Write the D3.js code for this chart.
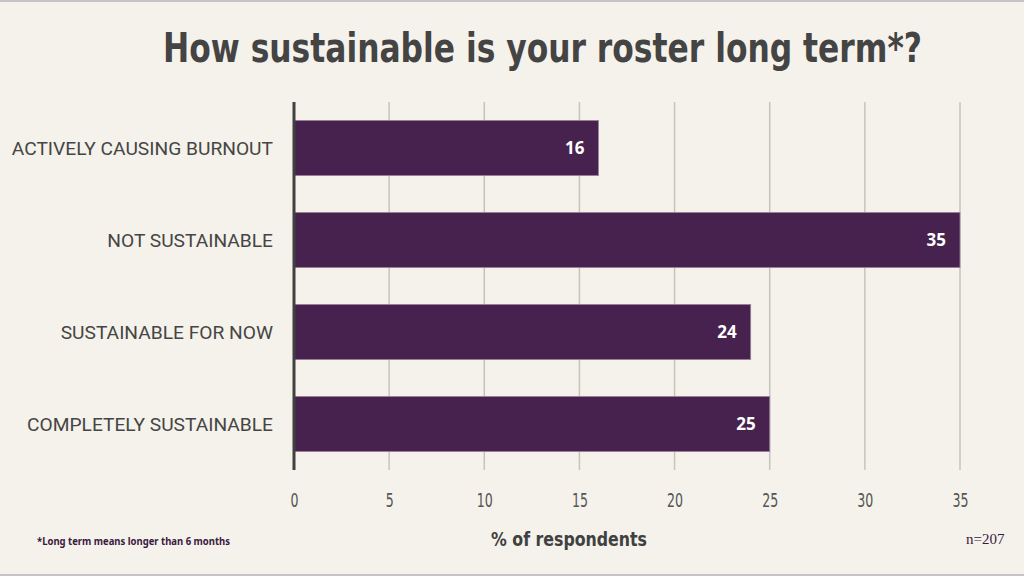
<!DOCTYPE html>
<html>
<head>
<meta charset="utf-8">
<script src="https://cdn.jsdelivr.net/npm/d3@7"></script>
<style>
  body { margin: 0; background: #f4f2ea; }
  svg { display: block; }
</style>
</head>
<body>
<svg id="chart" width="1024" height="576"></svg>
<script>
// chart data
var categories = ["ACTIVELY CAUSING BURNOUT", "NOT SUSTAINABLE", "SUSTAINABLE FOR NOW", "COMPLETELY SUSTAINABLE"];
var values = [16, 35, 24, 25];
var ticks = [0, 5, 10, 15, 20, 25, 30, 35];

var svg = d3.select("#chart");
var condensed = "'DejaVu Sans Condensed', 'Liberation Sans Narrow', sans-serif";

svg.append("rect").attr("width", 1024).attr("height", 576).attr("fill", "#f4f2ea");
svg.append("line").attr("x1", 0).attr("x2", 1024).attr("y1", 1).attr("y2", 1)
    .attr("stroke", "#c4c4c4").attr("stroke-width", 2);
svg.append("line").attr("x1", 0).attr("x2", 1024).attr("y1", 575).attr("y2", 575)
    .attr("stroke", "#c4c4c4").attr("stroke-width", 2);

var x = d3.scaleLinear().domain([0, 35]).range([294, 960]);
var y = d3.scaleBand().domain(categories).range([102, 470]).paddingInner(0.4).paddingOuter(0.2);

// gridlines
svg.selectAll("line.grid")
    .data(ticks.filter(function(d){ return d > 0 }))
    .enter()
    .append("line")
    .attr("class", "grid")
    .attr("x1", function(d){ return x(d) })
    .attr("x2", function(d){ return x(d) })
    .attr("y1", 102)
    .attr("y2", 470)
    .attr("stroke", "#c6c4bc")
    .attr("stroke-width", 1.5);

// bars
svg.selectAll("rect.bar")
    .data(values)
    .enter()
    .append("rect")
    .attr("class", "bar")
    .attr("x", x(0))
    .attr("y", function(d, i){ return y(categories[i]) })
    .attr("width", function(d){ return x(d) - x(0) })
    .attr("height", y.bandwidth())
    .attr("fill", "#47224e")
    .attr("stroke", "#9a849c")
    .attr("stroke-width", 0.8);

// value labels
svg.selectAll("text.val")
    .data(values)
    .enter()
    .append("text")
    .attr("class", "val")
    .attr("x", function(d){ return x(d) - 14 })
    .attr("y", function(d, i){ return y(categories[i]) + y.bandwidth() / 2 + 6 })
    .attr("text-anchor", "end")
    .attr("fill", "#ffffff")
    .style("font-family", "'Noto Sans', sans-serif")
    .style("font-weight", "bold")
    .style("font-size", "17px")
    .text(function(d){ return d });

// category labels
svg.selectAll("text.cat")
    .data(categories)
    .enter()
    .append("text")
    .attr("class", "cat")
    .attr("x", 273)
    .attr("y", function(d){ return y(d) + y.bandwidth() / 2 + 7 })
    .attr("text-anchor", "end")
    .attr("fill", "#454545")
    .style("font-family", "Roboto, sans-serif")
    .style("font-size", "19.2px")
    .text(function(d){ return d });

// axis line
svg.append("line")
    .attr("x1", x(0)).attr("x2", x(0))
    .attr("y1", 102).attr("y2", 470)
    .attr("stroke", "#404040")
    .attr("stroke-width", 3);

// x tick labels
var xAxis = svg.append("g")
    .attr("transform", "translate(0,470)")
    .call(d3.axisBottom(x).tickValues(ticks).tickSize(0).tickPadding(23));
xAxis.select(".domain").remove();
xAxis.selectAll("text")
    .attr("fill", "#555555")
    .attr("textLength", function(d){ return String(d).length * 8 })
    .attr("lengthAdjust", "spacingAndGlyphs")
    .style("font-family", condensed)
    .style("font-size", "20px");

// title (condensed by scaling height instead of overflowing width)
svg.append("g")
    .attr("transform", "translate(542.5,62) scale(1,1.22)")
    .append("text")
    .attr("x", 0)
    .attr("y", 0)
    .attr("text-anchor", "middle")
    .attr("textLength", 759)
    .attr("lengthAdjust", "spacingAndGlyphs")
    .attr("fill", "#444444")
    .style("font-family", condensed)
    .style("font-weight", "bold")
    .style("font-size", "34px")
    .text("How sustainable is your roster long term*?");

// axis title
svg.append("text")
    .attr("x", 569)
    .attr("y", 546)
    .attr("text-anchor", "middle")
    .attr("textLength", 156)
    .attr("lengthAdjust", "spacingAndGlyphs")
    .attr("fill", "#404040")
    .style("font-family", condensed)
    .style("font-weight", "bold")
    .style("font-size", "20px")
    .text("% of respondents");

// footnotes
svg.append("text")
    .attr("x", 37)
    .attr("y", 545)
    .attr("textLength", 193)
    .attr("lengthAdjust", "spacingAndGlyphs")
    .attr("fill", "#3a1840")
    .style("font-family", "'Noto Sans', sans-serif")
    .style("font-weight", "bold")
    .style("font-size", "10px")
    .text("*Long term means longer than 6 months");

svg.append("text")
    .attr("x", 966)
    .attr("y", 544)
    .attr("fill", "#3a1840")
    .style("font-family", "'Liberation Serif', serif")
    .style("font-size", "15px")
    .text("n=207");
</script>
</body>
</html>
